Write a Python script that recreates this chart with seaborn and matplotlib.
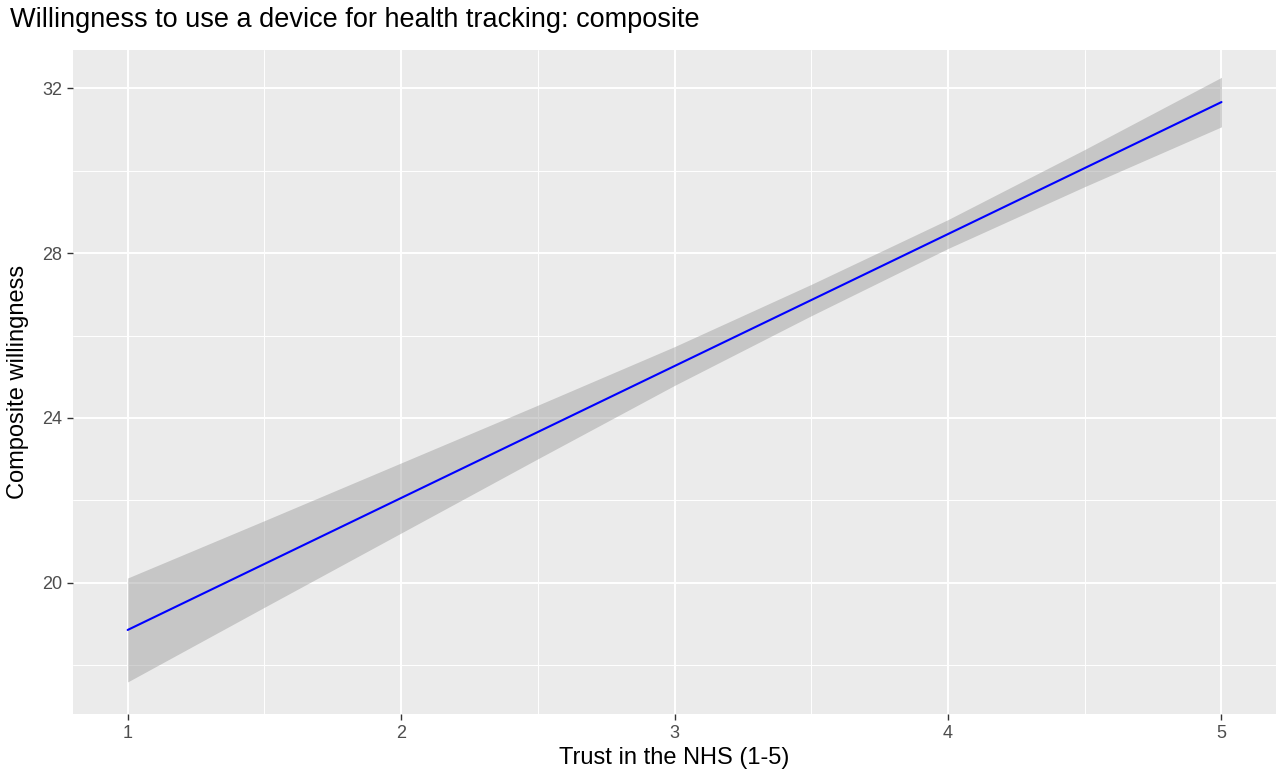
import matplotlib
matplotlib.use("Agg")
import matplotlib.pyplot as plt
import seaborn as sns
import pandas as pd
import numpy as np

trust = [1.0, 1.5, 2.0, 2.5, 3.0, 3.5, 4.0, 4.5, 5.0]
fit = [18.86, 20.46, 22.06, 23.66, 25.26, 26.86, 28.46, 30.06, 31.66]
half_width = [1.26, 1.05, 0.85, 0.65, 0.47, 0.38, 0.35, 0.45, 0.60]
xticks = [1, 2, 3, 4, 5]
yticks = [20, 24, 28, 32]

sns.set_theme(style="darkgrid", rc={"axes.facecolor": "#EBEBEB", "grid.color": "white"})
plt.rcParams['font.family'] = ['Liberation Sans', 'DejaVu Sans']

df = pd.DataFrame({"x": trust, "y": fit})
lo = np.array(fit) - np.array(half_width)
hi = np.array(fit) + np.array(half_width)

fig = plt.figure(figsize=(12.8, 7.83), dpi=100)
ax = fig.add_axes([0.057, 0.088, 0.94, 0.848])
ax.fill_between(trust, lo, hi, color="#999999", alpha=0.45, linewidth=0, zorder=2)
sns.lineplot(data=df, x="x", y="y", color="#0000FF", linewidth=1.5, ax=ax, zorder=3)

ax.set_xlim(0.8, 5.2)
ax.set_ylim(16.82, 32.92)
ax.set_xticks(xticks)
ax.set_yticks(yticks)
ax.set_xticks([1.5, 2.5, 3.5, 4.5], minor=True)
ax.set_yticks([18, 22, 26, 30], minor=True)
ax.grid(which="major", color="white", linewidth=1.4)
ax.grid(which="minor", color="white", linewidth=0.7)
for s in ax.spines.values():
    s.set_visible(False)
ax.tick_params(axis="both", which="major", labelsize=13, colors="#4D4D4D", length=4, width=1, left=True, bottom=True, color="#333333")
ax.tick_params(which="minor", length=0)
ax.set_xlabel("Trust in the NHS (1-5)", fontsize=17, color="black")
ax.set_ylabel("Composite willingness", fontsize=17, color="black", labelpad=10)
fig.text(0.008, 0.975, "Willingness to use a device for health tracking: composite", fontsize=19.5, va="center", ha="left", color="black")
fig.savefig("out.png", dpi=100)
